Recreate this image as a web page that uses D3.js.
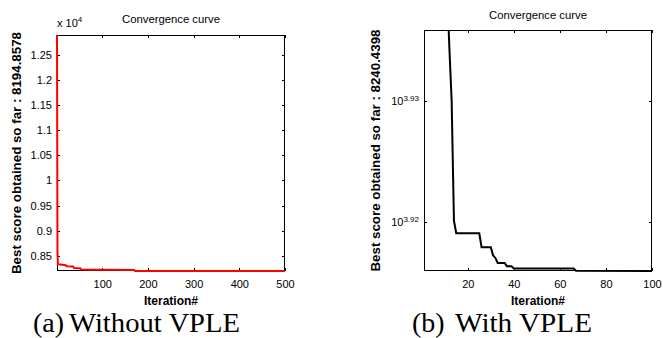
<!DOCTYPE html>
<html>
<head>
<meta charset="utf-8">
<script src="https://cdn.jsdelivr.net/npm/d3@7"></script>
<style>
body{margin:0;background:#fff}
svg{display:block}
text{font-family:"Liberation Sans",Arial,sans-serif;fill:#000}
.cap{font-family:"Liberation Serif","Times New Roman",serif}
</style>
</head>
<body>
<svg id="chart" width="663" height="338"></svg>
<script>
// (a) without VPLE - best score per iteration
var leftIters  = [1, 2, 3, 20, 22, 36, 38, 52, 54, 100, 170, 172, 500];
var leftScores = [12900, 8560, 8330, 8310, 8290, 8285, 8255, 8250, 8225, 8220, 8215, 8196, 8194.8578];
var leftXTicks = [100, 200, 300, 400, 500];
var leftYTicks = [8500, 9000, 9500, 10000, 10500, 11000, 11500, 12000, 12500];

// (b) with VPLE - log scale
var rightIters  = [1, 4, 8, 11, 12, 13, 14, 15, 25, 26, 30, 31, 32, 33, 36, 37, 39, 40, 66, 67, 100];
var rightScores = [11000, 9600, 9000, 8700, 8600, 8513, 8320, 8300, 8300, 8278, 8278, 8265, 8261, 8253, 8253, 8248, 8248, 8244.4, 8244.4, 8241, 8240.4398];
var rightXTicks = [20, 40, 60, 80, 100];
var rightYExp   = [3.92, 3.93];

var svg = d3.select('#chart');

var drawPanel = function(o){
  var g = svg.append('g');
  var x = d3.scaleLinear().domain(o.xDomain).range([o.x0, o.x1]);
  var y = (o.log ? d3.scaleLog() : d3.scaleLinear()).domain(o.yDomain).range([o.y1, o.y0]);

  var clipId = 'clip' + o.id;
  g.append('clipPath').attr('id', clipId)
    .append('rect')
    .attr('x', o.x0 - 2).attr('y', o.y0)
    .attr('width', o.x1 - o.x0 + 4).attr('height', o.y1 - o.y0 + 3);

  // axes, matlab style ticks inside
  g.append('g').attr('transform', 'translate(0,' + o.y1 + ')')
    .call(d3.axisBottom(x).tickValues(o.xTicks).tickSize(-3).tickSizeOuter(0).tickPadding(9).tickFormat(d3.format('d')));
  g.append('g').attr('transform', 'translate(0,' + o.y0 + ')')
    .call(d3.axisTop(x).tickValues(o.xTicks).tickSize(-3).tickSizeOuter(0).tickFormat(''));
  var left = g.append('g').attr('transform', 'translate(' + o.x0 + ',0)')
    .call(d3.axisLeft(y).tickValues(o.yTicks).tickSize(-3).tickSizeOuter(0).tickPadding(5).tickFormat(o.yFormat));
  g.append('g').attr('transform', 'translate(' + o.x1 + ',0)')
    .call(d3.axisRight(y).tickValues(o.yTicks).tickSize(-3).tickSizeOuter(0).tickFormat(''));

  g.selectAll('.domain').remove();
  g.selectAll('.tick line').attr('stroke', '#000').attr('shape-rendering', 'crispEdges');
  g.selectAll('.tick text').attr('font-size', '11px').attr('font-family', '"Liberation Sans",Arial,sans-serif').attr('fill', '#111');

  if (o.log) {
    left.selectAll('.tick text').text(null).each(function(d){
      var t = d3.select(this);
      t.append('tspan').text('10');
      t.append('tspan').attr('dy', '-0.55em').attr('font-size', '8px').text(d3.format('.2f')(Math.log10(d)));
    });
  }

  g.append('rect')
    .attr('x', o.x0 + 0.5).attr('y', o.y0 + 0.5)
    .attr('width', o.x1 - o.x0 - 1).attr('height', o.y1 - o.y0 - 1)
    .attr('fill', 'none').attr('stroke', '#000').attr('shape-rendering', 'crispEdges');

  var line = d3.line()
    .x(function(d){ return x(d[0]); })
    .y(function(d){ return y(d[1]); });

  g.append('path')
    .datum(d3.zip(o.iters, o.scores))
    .attr('clip-path', 'url(#' + clipId + ')')
    .attr('d', line)
    .attr('fill', 'none')
    .attr('stroke', o.color)
    .attr('stroke-width', 2)
    .attr('stroke-linejoin', 'miter');

  // title
  g.append('text')
    .attr('x', (o.x0 + o.x1) / 2).attr('y', o.titleY)
    .attr('text-anchor', 'middle').attr('font-size', '11px')
    .attr('textLength', 98).attr('lengthAdjust', 'spacingAndGlyphs')
    .text('Convergence curve');

  // y label
  g.append('text')
    .attr('transform', 'translate(' + o.ylabX + ',' + ((o.y0 + o.y1) / 2) + ') rotate(-90)')
    .attr('text-anchor', 'middle').attr('font-size', '12px').attr('font-weight', 'bold')
    .attr('textLength', 242).attr('lengthAdjust', 'spacingAndGlyphs')
    .text('Best score obtained so far : ' + o.best);

  // x label
  g.append('text')
    .attr('x', (o.x0 + o.x1) / 2).attr('y', 305)
    .attr('text-anchor', 'middle').attr('font-size', '12px').attr('font-weight', 'bold')
    .attr('textLength', 54).attr('lengthAdjust', 'spacingAndGlyphs')
    .text('Iteration#');

  // caption
  g.append('text').attr('class', 'cap').attr('x', o.capX).attr('y', 332).attr('font-size', '28px').text(o.capTag);
  g.append('text').attr('class', 'cap').attr('x', o.capX2).attr('y', 332).attr('font-size', '28px')
    .attr('textLength', o.capLen).attr('lengthAdjust', 'spacingAndGlyphs')
    .text(o.capText);

  return g;
};

var gl = drawPanel({
  id: 'a', x0: 57, x1: 285, y0: 35, y1: 271,
  xDomain: [1, 500], yDomain: [8194.8578, 12900],
  xTicks: leftXTicks, yTicks: leftYTicks,
  yFormat: function(d){ return d3.format('~g')(d / 10000); },
  iters: leftIters, scores: leftScores, color: '#ff0000',
  titleY: 23, ylabX: 21, best: '8194.8578',
  capX: 33, capX2: 69, capTag: '(a)', capText: 'Without VPLE', capLen: 171
});

// exponent label above left axis
var ex = gl.append('text').attr('x', 57).attr('y', 27).attr('font-size', '11px').attr('fill', '#111');
ex.append('tspan').text('x 10');
ex.append('tspan').attr('dy', '-0.6em').attr('font-size', '8px').text('4');

drawPanel({
  id: 'b', log: true, x0: 424, x1: 652, y0: 30, y1: 271,
  xDomain: [1, 100], yDomain: [8240.4398, 8628],
  xTicks: rightXTicks, yTicks: rightYExp.map(function(e){ return Math.pow(10, e); }),
  yFormat: '',
  iters: rightIters, scores: rightScores, color: '#000',
  titleY: 19, ylabX: 380, best: '8240.4398',
  capX: 412, capX2: 455, capTag: '(b)', capText: 'With VPLE', capLen: 137
});
</script>
</body>
</html>
